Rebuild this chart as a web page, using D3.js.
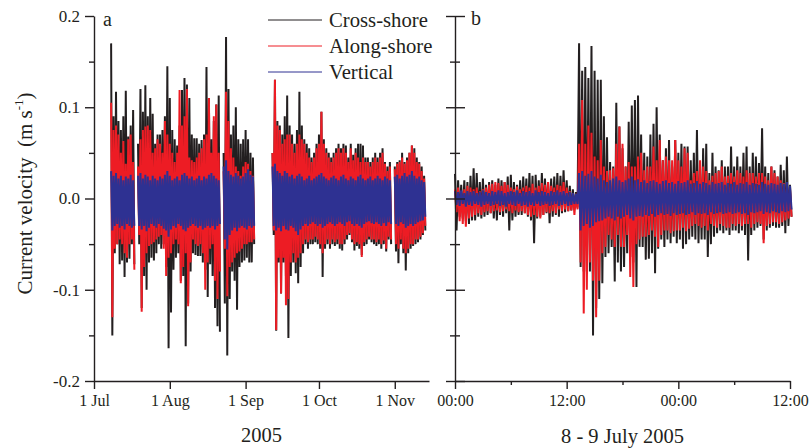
<!DOCTYPE html>
<html>
<head>
<meta charset="utf-8">
<script src="https://cdn.jsdelivr.net/npm/d3@7"></script>
<style>
  body { margin: 0; background: #fff; }
  svg { display: block; }
</style>
</head>
<body>
<svg id="chart" width="810" height="448"></svg>
<script>
// ---- series ----
const seriesNames  = ["Cross-shore", "Along-shore", "Vertical"];
const seriesColors = ["#231f20", "#ed1c24", "#2e3192"];

// ---- axis ticks ----
const yTicks      = [-0.2, -0.1, 0, 0.1, 0.2];
const yMinorTicks = [-0.15, -0.05, 0.05, 0.15];
const aTickDates  = ["2005-07-01", "2005-08-01", "2005-09-01", "2005-10-01", "2005-11-01"];
const aTickLabels = ["1 Jul", "1 Aug", "1 Sep", "1 Oct", "1 Nov"];
const bTickHours  = [0, 12, 24, 36];
const bTickLabels = ["00:00", "12:00", "00:00", "12:00"];
const bMinorHours = [6, 18, 30];

// ---- panel a: daily velocity maxima / minima (m s-1), 8 Jul - 13 Nov 2005 ----
// null = no record that day (instrument serviced)
const aFirstDay = "2005-07-08";
const aCrossHi = [
  0.17,0.09,0.117,0.085,0.075,0.09,0.118,0.068,0.08,0.097,
  null,0.06,0.12,0.095,0.124,0.09,0.11,0.093,0.06,0.07,
  0.07,0.075,0.09,0.145,0.11,0.075,0.065,0.058,0.08,0.119,
  0.132,0.125,0.11,0.07,0.066,0.066,0.06,0.064,0.07,0.144,
  0.11,0.065,0.085,0.103,0.113,
  null,0.05,0.177,0.12,0.07,0.08,0.1,0.065,0.06,0.065,0.075,0.065,0.05,0.045,
  null,null,null,null,null,null,null,
  0.05,0.13,0.085,0.08,0.07,0.09,0.113,0.08,0.07,0.06,
  0.075,0.117,0.08,0.065,0.06,0.055,0.045,0.05,0.06,0.07,
  0.095,0.065,0.055,0.05,0.045,0.05,0.055,0.06,0.055,0.06,
  0.058,0.045,0.06,0.048,0.055,0.06,0.06,0.058,0.045,0.045,
  0.04,0.045,0.05,0.045,0.05,0.055,0.04,0.035,0.04,null,
  0.035,0.04,0.042,0.05,0.04,0.045,0.05,0.058,0.055,0.045,
  0.04,0.035,0.025
];
const aCrossLo = [
  -0.15,-0.06,-0.05,-0.072,-0.068,-0.086,-0.07,-0.066,-0.05,-0.072,
  null,-0.05,-0.12,-0.085,-0.1,-0.07,-0.065,-0.068,-0.06,-0.05,
  -0.055,-0.05,-0.075,-0.164,-0.125,-0.078,-0.065,-0.06,-0.09,-0.085,
  -0.162,-0.115,-0.08,-0.06,-0.062,-0.063,-0.063,-0.07,-0.078,-0.108,
  -0.072,-0.085,-0.12,-0.14,-0.146,
  null,-0.115,-0.172,-0.11,-0.08,-0.09,-0.122,-0.075,-0.07,-0.068,-0.065,-0.07,-0.07,-0.05,
  null,null,null,null,null,null,null,
  -0.04,-0.145,-0.07,-0.104,-0.07,-0.085,-0.153,-0.085,-0.07,-0.082,
  -0.093,-0.075,-0.06,-0.05,-0.055,-0.05,-0.05,-0.048,-0.05,-0.055,
  -0.086,-0.055,-0.05,-0.055,-0.05,-0.052,-0.05,-0.055,-0.057,-0.05,
  -0.045,-0.04,-0.048,-0.057,-0.052,-0.055,-0.062,-0.052,-0.05,-0.045,
  -0.048,-0.05,-0.052,-0.05,-0.055,-0.05,-0.058,-0.045,-0.05,null,
  -0.058,-0.071,-0.05,-0.06,-0.079,-0.06,-0.055,-0.052,-0.05,-0.048,
  -0.045,-0.04,-0.035
];
const aAlongHi = [
  0.105,0.075,0.08,0.07,0.05,0.063,0.038,0.065,0.07,0.04,
  null,0.035,0.065,0.075,0.079,0.08,0.075,0.05,0.055,0.065,
  0.06,0.05,0.085,0.07,0.06,0.05,0.04,0.05,0.119,0.08,
  0.09,0.12,0.045,0.042,0.04,0.045,0.05,0.055,0.065,0.07,
  0.11,0.05,0.09,0.103,0.05,
  null,0.03,0.117,0.085,0.055,0.045,0.035,0.03,0.025,0.035,0.04,0.038,0.03,0.025,
  null,null,null,null,null,null,null,
  0.05,0.13,0.08,0.075,0.06,0.065,0.07,0.07,0.06,0.05,
  0.06,0.07,0.065,0.06,0.05,0.045,0.04,0.045,0.055,0.06,
  0.095,0.06,0.05,0.045,0.04,0.045,0.05,0.055,0.05,0.055,
  0.05,0.04,0.055,0.042,0.05,0.045,0.04,0.045,0.04,0.04,
  0.035,0.04,0.045,0.04,0.045,0.05,0.038,0.03,0.035,null,
  0.032,0.038,0.04,0.045,0.038,0.042,0.05,0.058,0.05,0.04,
  0.038,0.03,0.022
];
const aAlongLo = [
  -0.13,-0.055,-0.05,-0.045,-0.05,-0.06,-0.065,-0.05,-0.045,-0.078,
  null,-0.04,-0.124,-0.075,-0.06,-0.052,-0.05,-0.048,-0.045,-0.042,
  -0.04,-0.055,-0.085,-0.065,-0.06,-0.05,-0.045,-0.05,-0.093,-0.075,
  -0.06,-0.118,-0.07,-0.045,-0.05,-0.052,-0.05,-0.06,-0.1,-0.07,
  -0.055,-0.05,-0.09,-0.11,-0.08,
  null,-0.055,-0.107,-0.075,-0.07,-0.065,-0.06,-0.058,-0.055,-0.05,-0.05,-0.048,-0.048,-0.045,
  null,null,null,null,null,null,null,
  -0.035,-0.144,-0.065,-0.104,-0.065,-0.117,-0.11,-0.07,-0.06,-0.07,
  -0.065,-0.06,-0.05,-0.045,-0.048,-0.045,-0.045,-0.042,-0.045,-0.05,
  -0.06,-0.05,-0.045,-0.05,-0.045,-0.048,-0.045,-0.05,-0.05,-0.045,
  -0.04,-0.038,-0.045,-0.05,-0.048,-0.05,-0.064,-0.048,-0.045,-0.042,
  -0.045,-0.045,-0.048,-0.045,-0.05,-0.046,-0.055,-0.042,-0.045,null,
  -0.05,-0.055,-0.045,-0.055,-0.06,-0.055,-0.05,-0.05,-0.045,-0.045,
  -0.042,-0.038,-0.03
];
const aVertHi = [
  0.03,0.025,0.028,0.022,0.025,0.02,0.024,0.022,0.026,0.02,
  null,0.025,0.028,0.022,0.026,0.024,0.02,0.025,0.022,0.02,
  0.024,0.022,0.026,0.03,0.025,0.02,0.022,0.024,0.02,0.026,
  0.028,0.025,0.022,0.024,0.02,0.022,0.025,0.02,0.024,0.022,
  0.026,0.028,0.025,0.022,0.02,
  null,0.035,0.042,0.03,0.026,0.024,0.028,0.025,0.022,0.024,0.028,0.032,0.026,0.024,
  null,null,null,null,null,null,null,
  0.035,0.038,0.03,0.028,0.025,0.03,0.028,0.024,0.026,0.022,
  0.025,0.027,0.024,0.02,0.022,0.025,0.02,0.022,0.024,0.026,
  0.028,0.024,0.022,0.02,0.023,0.025,0.022,0.02,0.024,0.026,
  0.022,0.02,0.024,0.022,0.02,0.024,0.026,0.022,0.02,0.022,
  0.024,0.02,0.022,0.025,0.022,0.02,0.024,0.022,0.02,null,
  0.024,0.026,0.022,0.025,0.028,0.024,0.026,0.03,0.025,0.022,
  0.024,0.02,0.018
];
const aVertLo = [
  -0.035,-0.03,-0.028,-0.032,-0.03,-0.034,-0.028,-0.03,-0.032,-0.03,
  null,-0.03,-0.034,-0.03,-0.036,-0.032,-0.028,-0.03,-0.032,-0.028,
  -0.03,-0.033,-0.035,-0.042,-0.034,-0.03,-0.032,-0.028,-0.03,-0.034,
  -0.036,-0.032,-0.03,-0.028,-0.03,-0.032,-0.03,-0.034,-0.032,-0.03,
  -0.032,-0.03,-0.034,-0.03,-0.028,
  null,-0.045,-0.056,-0.04,-0.035,-0.032,-0.036,-0.032,-0.03,-0.032,-0.034,-0.03,-0.032,-0.03,
  null,null,null,null,null,null,null,
  -0.03,-0.035,-0.032,-0.036,-0.03,-0.034,-0.035,-0.03,-0.032,-0.036,
  -0.04,-0.034,-0.03,-0.028,-0.03,-0.028,-0.026,-0.028,-0.03,-0.028,
  -0.032,-0.03,-0.028,-0.026,-0.028,-0.03,-0.028,-0.026,-0.028,-0.03,
  -0.026,-0.025,-0.028,-0.03,-0.028,-0.03,-0.032,-0.028,-0.026,-0.025,
  -0.027,-0.028,-0.026,-0.028,-0.03,-0.027,-0.03,-0.026,-0.028,null,
  -0.028,-0.03,-0.026,-0.028,-0.032,-0.03,-0.028,-0.03,-0.028,-0.026,
  -0.025,-0.024,-0.02
];

// ---- panel b: 20-minute velocity maxima / minima, 8 Jul 00:00 - 9 Jul 12:00 ----
const bStart = "2005-07-08 00:00";
const bStepMinutes = 20;
const bCrossHi = [
  0.027,0.02,0.015,0.02,0.018,0.025,0.033,0.028,0.018,0.022,
  0.015,0.018,0.02,0.015,0.022,0.02,0.018,0.024,0.026,0.018,
  0.015,0.02,0.024,0.022,0.028,0.025,0.026,0.02,0.028,0.022,
  0.018,0.022,0.024,0.028,0.025,0.031,0.02,0.014,0.01,0.007,
  0.17,0.14,0.144,0.132,0.167,0.14,0.13,0.13,0.09,0.067,
  0.04,0.035,0.105,0.079,0.055,0.035,0.084,0.102,0.108,0.113,
  0.07,0.05,0.046,0.07,0.082,0.1,0.07,0.042,0.055,0.064,
  0.035,0.064,0.05,0.06,0.057,0.057,0.042,0.05,0.075,0.035,
  0.055,0.06,0.028,0.05,0.035,0.031,0.042,0.035,0.035,0.057,
  0.035,0.046,0.035,0.05,0.057,0.035,0.05,0.046,0.039,0.077,
  0.035,0.028,0.035,0.031,0.024,0.037,0.031,0.046,0.015
];
const bCrossLo = [
  -0.035,-0.02,-0.022,-0.025,-0.028,-0.024,-0.024,-0.02,-0.022,-0.02,
  -0.018,-0.016,-0.022,-0.024,-0.018,-0.02,-0.016,-0.035,-0.024,-0.02,
  -0.018,-0.018,-0.016,-0.02,-0.024,-0.049,-0.022,-0.02,-0.018,-0.016,
  -0.027,-0.02,-0.018,-0.02,-0.016,-0.015,-0.014,-0.013,-0.012,-0.01,
  -0.075,-0.08,-0.08,-0.08,-0.15,-0.12,-0.11,-0.093,-0.064,-0.06,
  -0.053,-0.091,-0.07,-0.08,-0.075,-0.06,-0.064,-0.07,-0.097,-0.053,
  -0.053,-0.067,-0.066,-0.06,-0.082,-0.055,-0.045,-0.053,-0.045,-0.049,
  -0.042,-0.049,-0.045,-0.055,-0.05,-0.045,-0.042,-0.045,-0.049,-0.045,
  -0.045,-0.064,-0.05,-0.042,-0.038,-0.035,-0.038,-0.035,-0.04,-0.035,
  -0.035,-0.038,-0.035,-0.04,-0.068,-0.04,-0.035,-0.032,-0.03,-0.045,
  -0.035,-0.032,-0.03,-0.032,-0.032,-0.03,-0.038,-0.03,-0.02
];
const bAlongHi = [
  0.01,0.012,0.008,0.01,0.014,0.012,0.01,0.012,0.008,0.01,
  0.012,0.015,0.016,0.018,0.017,0.014,0.018,0.015,0.012,0.01,
  0.013,0.01,0.012,0.014,0.012,0.016,0.012,0.014,0.017,0.015,
  0.018,0.014,0.012,0.015,0.014,0.018,0.012,0.008,0.006,0.005,
  0.06,0.108,0.06,0.08,0.072,0.046,0.042,0.064,0.035,0.03,
  0.031,0.033,0.06,0.079,0.06,0.035,0.04,0.035,0.035,0.046,
  0.05,0.031,0.035,0.035,0.057,0.042,0.064,0.042,0.046,0.042,
  0.042,0.064,0.042,0.035,0.055,0.05,0.02,0.028,0.03,0.042,
  0.035,0.03,0.02,0.025,0.028,0.03,0.035,0.024,0.025,0.028,
  0.024,0.031,0.028,0.024,0.031,0.028,0.028,0.024,0.028,0.028,
  0.024,0.02,0.035,0.028,0.024,0.02,0.017,0.015,0.01
];
const bAlongLo = [
  -0.015,-0.025,-0.028,-0.031,-0.022,-0.02,-0.018,-0.016,-0.018,-0.015,
  -0.014,-0.016,-0.014,-0.013,-0.015,-0.014,-0.012,-0.014,-0.016,-0.013,
  -0.015,-0.014,-0.016,-0.018,-0.02,-0.018,-0.02,-0.022,-0.018,-0.015,
  -0.016,-0.014,-0.016,-0.012,-0.014,-0.012,-0.014,-0.013,-0.018,-0.012,
  -0.07,-0.126,-0.1,-0.07,-0.09,-0.13,-0.09,-0.06,-0.053,-0.04,
  -0.045,-0.053,-0.04,-0.053,-0.053,-0.04,-0.086,-0.097,-0.05,-0.045,
  -0.042,-0.042,-0.04,-0.035,-0.042,-0.053,-0.04,-0.035,-0.035,-0.038,
  -0.036,-0.035,-0.035,-0.032,-0.036,-0.033,-0.03,-0.028,-0.03,-0.032,
  -0.03,-0.035,-0.028,-0.03,-0.032,-0.028,-0.03,-0.032,-0.032,-0.028,
  -0.03,-0.028,-0.03,-0.028,-0.028,-0.032,-0.028,-0.026,-0.028,-0.049,
  -0.03,-0.028,-0.026,-0.026,-0.028,-0.026,-0.024,-0.022,-0.02
];
const bVertHi = [
  0.008,0.007,0.009,0.006,0.008,0.007,0.008,0.006,0.007,0.009,
  0.007,0.006,0.008,0.007,0.009,0.008,0.006,0.007,0.008,0.007,
  0.009,0.006,0.008,0.007,0.008,0.006,0.009,0.007,0.008,0.007,
  0.006,0.008,0.007,0.009,0.007,0.008,0.006,0.007,0.006,0.005,
  0.028,0.03,0.025,0.027,0.03,0.024,0.022,0.026,0.02,0.018,
  0.02,0.022,0.024,0.02,0.018,0.02,0.022,0.024,0.02,0.021,
  0.018,0.02,0.017,0.019,0.02,0.018,0.016,0.019,0.02,0.017,
  0.018,0.016,0.019,0.017,0.018,0.02,0.016,0.017,0.019,0.016,
  0.018,0.017,0.015,0.018,0.016,0.017,0.018,0.015,0.017,0.016,
  0.018,0.015,0.017,0.016,0.018,0.015,0.017,0.016,0.015,0.018,
  0.016,0.015,0.017,0.016,0.015,0.017,0.016,0.018,0.014
];
const bVertLo = [
  -0.007,-0.008,-0.006,-0.009,-0.007,-0.008,-0.006,-0.007,-0.009,-0.007,
  -0.006,-0.008,-0.007,-0.006,-0.008,-0.007,-0.009,-0.006,-0.007,-0.008,
  -0.006,-0.008,-0.007,-0.009,-0.007,-0.008,-0.006,-0.008,-0.007,-0.006,
  -0.008,-0.007,-0.006,-0.008,-0.007,-0.006,-0.008,-0.007,-0.006,-0.006,
  -0.035,-0.03,-0.028,-0.032,-0.03,-0.026,-0.025,-0.024,-0.022,-0.02,
  -0.022,-0.024,-0.02,-0.022,-0.02,-0.018,-0.022,-0.024,-0.02,-0.019,
  -0.02,-0.018,-0.019,-0.017,-0.02,-0.018,-0.016,-0.018,-0.017,-0.019,
  -0.016,-0.018,-0.017,-0.016,-0.018,-0.017,-0.015,-0.018,-0.016,-0.017,
  -0.016,-0.018,-0.015,-0.017,-0.016,-0.015,-0.017,-0.016,-0.015,-0.017,
  -0.016,-0.015,-0.017,-0.016,-0.018,-0.015,-0.016,-0.015,-0.014,-0.017,
  -0.015,-0.016,-0.014,-0.015,-0.016,-0.014,-0.015,-0.014,-0.012
];

// ---------------------------------------------------------------
const svg = d3.select("#chart");
const ink = "#231f20";
const serif = '"Liberation Serif", "Times New Roman", serif';
const parseDay  = d3.timeParse("%Y-%m-%d");
const parseTime = d3.timeParse("%Y-%m-%d %H:%M");

const y = d3.scaleLinear().domain([-0.2, 0.2]).range([381, 16]);

const xa = d3.scaleTime()
  .domain([parseDay("2005-07-01"), parseDay("2005-11-15")])
  .range([94, 429]);
const bT0 = parseTime(bStart);
const xb = d3.scaleTime()
  .domain([bT0, d3.timeHour.offset(bT0, 36)])
  .range([455, 790]);

const aTimes = aCrossHi.map((_, i) => d3.timeDay.offset(parseDay(aFirstDay), i));
const bTimes = bCrossHi.map((_, i) => d3.timeMinute.offset(bT0, bStepMinutes * i));

// Each sampling interval contributes its maximum at the start and its minimum
// at mid-interval, so the trace swings between the two like the raw record.
// Missing samples split the trace into separate runs.
function tracesOf(times, hi, lo, halfStepMs) {
  const runs = [];
  let cur = [];
  times.forEach((t, i) => {
    if (hi[i] == null || lo[i] == null) {
      if (cur.length) runs.push(cur);
      cur = [];
      return;
    }
    cur.push({ t, v: hi[i] });
    cur.push({ t: new Date(+t + halfStepMs), v: lo[i] });
  });
  if (cur.length) runs.push(cur);
  return runs;
}

function drawSeries(g, x, times, pairs, halfStepMs, width) {
  const line = d3.line().x(d => x(d.t)).y(d => y(d.v));
  pairs.forEach(([hi, lo], si) => {
    g.append("g")
      .selectAll("path")
      .data(tracesOf(times, hi, lo, halfStepMs))
      .join("path")
      .attr("d", line)
      .attr("fill", "none")
      .attr("stroke", seriesColors[si])
      .attr("stroke-width", width)
      .attr("stroke-linejoin", "miter")
      .attr("stroke-miterlimit", 2);
  });
}

drawSeries(svg.append("g"), xa, aTimes,
  [[aCrossHi, aCrossLo], [aAlongHi, aAlongLo], [aVertHi, aVertLo]],
  12 * 3600e3, 2.0);

drawSeries(svg.append("g"), xb, bTimes,
  [[bCrossHi, bCrossLo], [bAlongHi, bAlongLo], [bVertHi, bVertLo]],
  (bStepMinutes / 2) * 60e3, 2.0);

// ---- axes ----
function styleAxis(g, fontSize) {
  g.selectAll("path, line").attr("stroke", ink).attr("stroke-width", 1.4);
  g.selectAll("text").attr("fill", ink).attr("font-size", fontSize).attr("font-family", serif);
}

// panel a, left axis
svg.append("g").attr("transform", "translate(94,0)")
  .call(d3.axisLeft(y).tickValues(yTicks).tickSize(9).tickSizeOuter(0).tickPadding(5)
    .tickFormat(d => d.toFixed(1)))
  .call(g => styleAxis(g, 17));
svg.append("g").attr("transform", "translate(94,0)")
  .call(d3.axisLeft(y).tickValues(yMinorTicks).tickSize(5).tickFormat(""))
  .call(g => g.select(".domain").remove())
  .call(g => styleAxis(g, 17));

// panel a, bottom axis
svg.append("g").attr("transform", "translate(0,381)")
  .call(d3.axisBottom(xa).tickValues(aTickDates.map(parseDay)).tickSize(8).tickSizeOuter(0)
    .tickPadding(6).tickFormat((d, i) => aTickLabels[i]))
  .call(g => styleAxis(g, 16));

// panel b, left axis (ticks cross the line, no labels)
svg.append("g").attr("transform", "translate(455,0)")
  .call(d3.axisLeft(y).tickValues(yTicks).tickSize(9).tickSizeOuter(0).tickFormat(""))
  .call(g => styleAxis(g, 17));
svg.append("g").attr("transform", "translate(455,0)")
  .call(d3.axisRight(y).tickValues(yTicks).tickSize(10).tickFormat(""))
  .call(g => g.select(".domain").remove())
  .call(g => styleAxis(g, 17));
svg.append("g").attr("transform", "translate(455,0)")
  .call(d3.axisLeft(y).tickValues(yMinorTicks).tickSize(5).tickFormat(""))
  .call(g => g.select(".domain").remove())
  .call(g => styleAxis(g, 17));
svg.append("g").attr("transform", "translate(455,0)")
  .call(d3.axisRight(y).tickValues(yMinorTicks).tickSize(5).tickFormat(""))
  .call(g => g.select(".domain").remove())
  .call(g => styleAxis(g, 17));

// panel b, bottom axis
svg.append("g").attr("transform", "translate(0,381)")
  .call(d3.axisBottom(xb).tickValues(bTickHours.map(h => d3.timeHour.offset(bT0, h)))
    .tickSize(8).tickSizeOuter(0).tickPadding(6).tickFormat((d, i) => bTickLabels[i]))
  .call(g => styleAxis(g, 16));
svg.append("g").attr("transform", "translate(0,381)")
  .call(d3.axisBottom(xb).tickValues(bMinorHours.map(h => d3.timeHour.offset(bT0, h)))
    .tickSize(4).tickFormat(""))
  .call(g => g.select(".domain").remove())
  .call(g => styleAxis(g, 16));

// ---- titles ----
const txt = (x, yy, s, size, anchor) => svg.append("text")
  .attr("x", x).attr("y", yy).attr("font-size", size).attr("font-family", serif)
  .attr("fill", ink).attr("text-anchor", anchor || "start").text(s);

txt(103, 26, "a", 20);
txt(471, 25, "b", 20);
txt(261.5, 442, "2005", 20.5, "middle");
txt(622.5, 443, "8 - 9 July 2005", 20.5, "middle");

const yTitle = svg.append("text")
  .attr("transform", "translate(31.5,193.5) rotate(-90)")
  .attr("text-anchor", "middle")
  .attr("font-size", 21)
  .attr("font-family", serif)
  .attr("fill", ink)
  .attr("xml:space", "preserve");
yTitle.append("tspan").text("Current velocity  (m s");
yTitle.append("tspan").attr("font-size", 13).attr("dy", -9).text("-1");
yTitle.append("tspan").attr("dy", 9).text(")");

// ---- legend ----
const legend = svg.append("g");
seriesNames.forEach((name, i) => {
  const ly = 20 + i * 26;
  legend.append("line")
    .attr("x1", 268).attr("x2", 322).attr("y1", ly).attr("y2", ly)
    .attr("stroke", seriesColors[i]).attr("stroke-width", 1);
  legend.append("text")
    .attr("x", 329).attr("y", ly + 6.5)
    .attr("font-size", 20.7).attr("font-family", serif).attr("fill", ink)
    .text(name);
});
</script>
</body>
</html>
